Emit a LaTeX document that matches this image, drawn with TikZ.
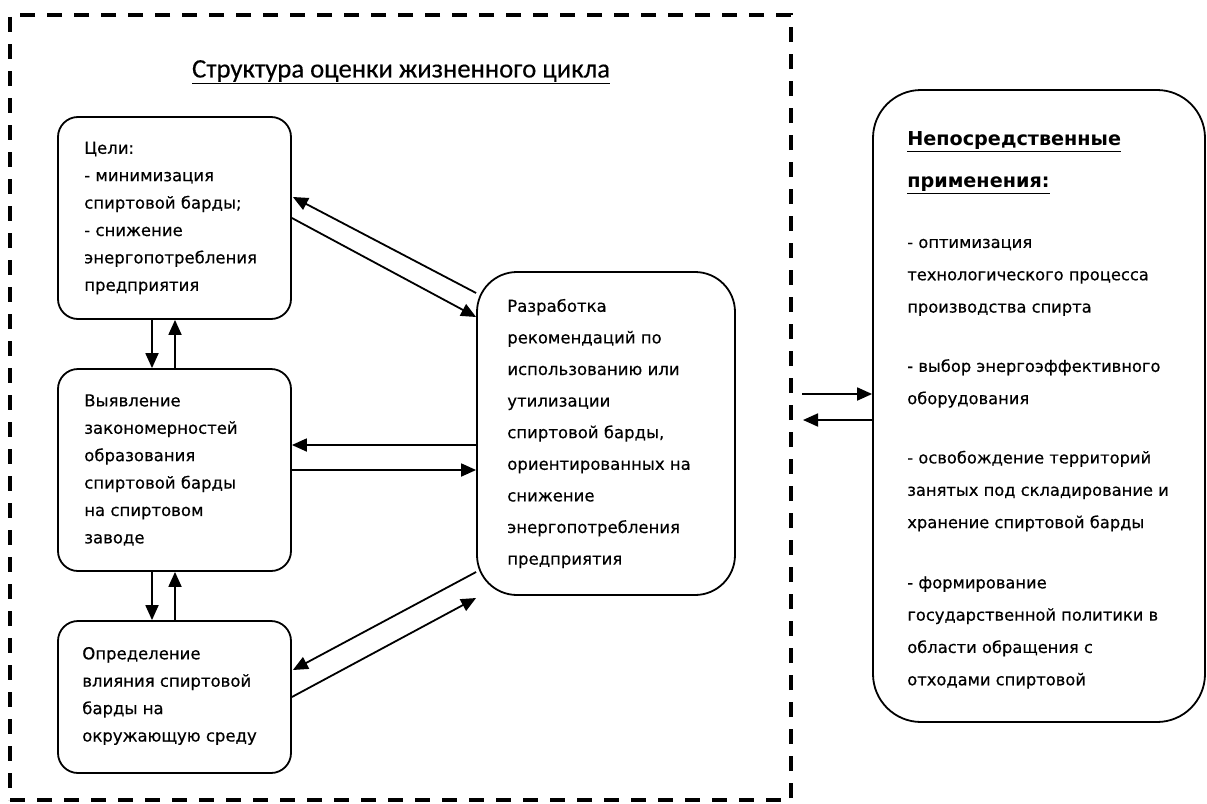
\documentclass[tikz,border=0pt]{standalone}
\usepackage{fontspec}
\setmainfont{DejaVu Sans}
\newfontfamily\bodyfont{DejaVu Sans}[FakeBold=0.4]
\newfontfamily\headfont{DejaVu Sans Bold}
\newfontfamily\titlefont{Carlito}[FakeBold=0.3]
\usetikzlibrary{arrows.meta}
\begin{document}
\begin{tikzpicture}[x=1pt,y=-1pt,
  box/.style={draw, line width=1.8pt, rounded corners=20pt, inner sep=0pt},
  framebox/.style={draw, line width=3.5pt, dash pattern=on 15pt off 12pt, inner sep=0pt},
  txt/.style={align=left, inner sep=0pt, anchor=west, font=\bodyfont\fontsize{16.5}{27.4}\selectfont},
  txtb/.style={align=left, inner sep=0pt, anchor=west, font=\bodyfont\fontsize{16.5}{31.6}\selectfont},
  txtc/.style={align=left, inner sep=0pt, anchor=west, font=\bodyfont\fontsize{16.3}{32.3}\selectfont},
  arr/.style={line width=1.8pt, -{Triangle[length=15pt,width=13pt]}},
]
\useasboundingbox (0,0) rectangle (1207,803);
\fill[white] (0,0) rectangle (1207,803);

\node[framebox, minimum width=781pt, minimum height=785pt] (frame) at (400.5,407.5) {};
\node[inner sep=0pt, font=\titlefont\fontsize{26.7}{30}\selectfont] (title) at (401,72) {\underline{Структура оценки жизненного цикла}};

\node[box, minimum width=233pt, minimum height=202pt] (b1) at (174.5,218) {};
\node[box, minimum width=233pt, minimum height=202pt] (b2) at (174.5,470) {};
\node[box, minimum width=233pt, minimum height=152pt] (b3) at (174.5,697) {};
\node[box, rounded corners=40pt, minimum width=258pt, minimum height=323pt] (b4) at (606,433.5) {};
\node[box, rounded corners=48pt, minimum width=332pt, minimum height=632pt] (b5) at (1039,406) {};

\node[txt] (t1) at ([xshift=27pt]b1.west) {Цели:\\- минимизация\\спиртовой барды;\\- снижение\\энергопотребления\\предприятия};
\node[txt] (t2) at ([xshift=27pt]b2.west) {Выявление\\закономерностей\\образования\\спиртовой барды\\на спиртовом\\заводе};
\node[txt] (t3) at ([xshift=25pt,yshift=1pt]b3.west) {Определение\\влияния спиртовой\\барды на\\окружающую среду};
\node[txtb] (t4) at ([xshift=31pt]b4.west) {Разработка\\рекомендаций по\\использованию или\\утилизации\\спиртовой барды,\\ориентированных на\\снижение\\энергопотребления\\предприятия};
\node[txtc] (t5) at ([xshift=35pt,yshift=-4pt]b5.west) {{\headfont\fontsize{19.2}{32.3}\selectfont\underline{Непосредственные}}\\[10pt]
{\headfont\fontsize{19.2}{32.3}\selectfont\underline{применения:}}\\[28pt]
- оптимизация\\технологического процесса\\производства спирта\\[27pt]
- выбор энергоэффективного\\оборудования\\[27pt]
- освобождение территорий\\занятых под складирование и\\хранение спиртовой барды\\[28pt]
- формирование\\государственной политики в\\области обращения с\\отходами спиртовой};

% vertical arrows
\draw[arr] ([xshift=-22.5pt]b1.south) -- ([xshift=-22.5pt]b2.north);
\draw[arr] ([xshift=0.5pt]b2.north) -- ([xshift=0.5pt]b1.south);
\draw[arr] ([xshift=-22.5pt]b2.south) -- ([xshift=-22.5pt]b3.north);
\draw[arr] ([xshift=0.5pt]b3.north) -- ([xshift=0.5pt]b2.south);

% to/from b4
\draw[arr] ([yshift=140.5pt]b4.west) -- ([xshift=1pt,yshift=21pt]b1.east);
\draw[arr] (b1.east) -- ([yshift=116.5pt]b4.west);
\draw[arr] ([yshift=-11.5pt]b4.west) -- ([yshift=25pt]b2.east);
\draw[arr] (b2.east) -- ([yshift=-36.5pt]b4.west);
\draw[arr] ([yshift=-138.5pt]b4.west) -- ([xshift=1pt,yshift=27pt]b3.east);
\draw[arr] (b3.east) -- ([yshift=-164.5pt]b4.west);

% frame <-> b5
\coordinate (o1) at (802,394);
\coordinate (o2) at (803,420);
\draw[arr] (o1) -- (o1 -| b5.west);
\draw[arr] (o2 -| b5.west) -- (o2);
\end{tikzpicture}
\end{document}
